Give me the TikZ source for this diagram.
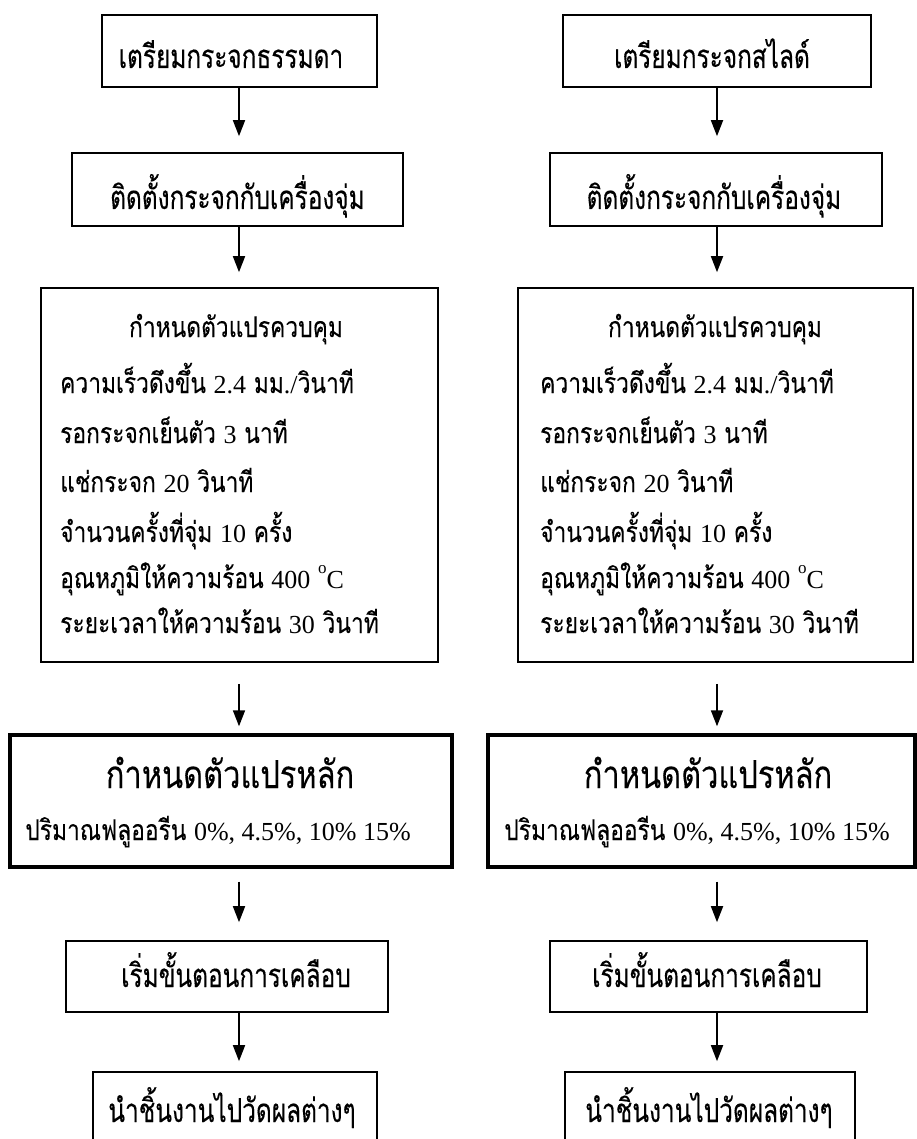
\documentclass[tikz,border=0pt]{standalone}
\usepackage{fontspec}
\newfontfamily\thai[Script=Thai,FakeStretch=0.74,FakeBold=0.25]{Loma}
\newfontfamily\thaib[Script=Thai,FakeStretch=0.8,FakeBold=0.12]{Loma}
\newfontfamily\lat{Liberation Serif}
\usetikzlibrary{arrows.meta,calc}
\newcommand{\fA}{\thai\fontsize{33}{33}\selectfont}
\newcommand{\fB}{\thaib\fontsize{28.5}{28.5}\selectfont}
\newcommand{\fC}{\thaib\fontsize{38.5}{38.5}\selectfont}
\newcommand{\nm}[1]{{\lat\fontsize{26}{26}\selectfont #1}}
\newcommand{\degC}{\raisebox{0.5em}{\lat\fontsize{17}{17}\selectfont o}{\lat\fontsize{26}{26}\selectfont C}}
\begin{document}
\begin{tikzpicture}[x=1pt,y=-1pt,
  box/.style={draw, line width=1.6pt, inner sep=0pt},
  thickbox/.style={draw, line width=3.4pt, inner sep=0pt},
  arr/.style={line width=1.7pt, -{Triangle[length=16pt,width=12pt]}},
  txt/.style={inner sep=0pt, anchor=base},
  ltxt/.style={inner sep=0pt, anchor=base west}]
\useasboundingbox (0,0) rectangle (917,1139);
\clip (0,0) rectangle (917,1139);
\coordinate (axL) at (239,0);
\coordinate (axR) at (717,0);
% left column
\node[box, minimum width=275, minimum height=72] (b1L) at (239.5,51) {};
\node[box, minimum width=331, minimum height=73] (b2L) at (237.5,189.5) {};
\node[box, minimum width=397, minimum height=374] (b3L) at (239.5,475) {};
\node[thickbox, minimum width=442, minimum height=132] (b4L) at (231,801) {};
\node[box, minimum width=322, minimum height=71] (b5L) at (227,976.5) {};
\node[box, minimum width=284, minimum height=98] (b6L) at (235,1121) {};
% right column
\node[box, minimum width=308, minimum height=72] (b1R) at (717,51) {};
\node[box, minimum width=332, minimum height=73] (b2R) at (716,189.5) {};
\node[box, minimum width=395, minimum height=374] (b3R) at (715.5,475) {};
\node[thickbox, minimum width=427, minimum height=132] (b4R) at (701.5,801) {};
\node[box, minimum width=317, minimum height=71] (b5R) at (708.5,976.5) {};
\node[box, minimum width=290, minimum height=98] (b6R) at (710,1121) {};
% texts left
\node[txt, font=\fA] (t1L) at (231,68) {เตรียมกระจกธรรมดา};
\node[txt, font=\fA] (t2L) at (237.5,209) {ติดตั้งกระจกกับเครื่องจุ่ม};
\node[txt, font=\fB] (t3L) at (236,337) {กำหนดตัวแปรควบคุม};
\node[ltxt, font=\fB] (t3La) at (60,393) {ความเร็วดึงขึ้น \nm{2.4} มม\nm{./}วินาที};
\node[ltxt, font=\fB] (t3Lb) at (60,443) {รอกระจกเย็นตัว \nm{3} นาที};
\node[ltxt, font=\fB] (t3Lc) at (60,492) {แช่กระจก \nm{20} วินาที};
\node[ltxt, font=\fB] (t3Ld) at (60,542) {จำนวนครั้งที่จุ่ม \nm{10} ครั้ง};
\node[ltxt, font=\fB] (t3Le) at (60,588) {อุณหภูมิให้ความร้อน \nm{400} \degC};
\node[ltxt, font=\fB] (t3Lf) at (60,633) {ระยะเวลาให้ความร้อน \nm{30} วินาที};
\node[txt, font=\fC] (t4L) at (230,788) {กำหนดตัวแปรหลัก};
\node[txt, font=\fB] (t4La) at (218,840) {ปริมาณฟลูออรีน \nm{0\%, 4.5\%, 10\% 15\%}};
\node[txt, font=\fA] (t5L) at (236,987) {เริ่มขั้นตอนการเคลือบ};
\node[txt, font=\fA] (t6L) at (232,1122) {นำชิ้นงานไปวัดผลต่างๆ};
% texts right
\node[txt, font=\fA] (t1R) at (712,68) {เตรียมกระจกสไลด์};
\node[txt, font=\fA] (t2R) at (714,209) {ติดตั้งกระจกกับเครื่องจุ่ม};
\node[txt, font=\fB] (t3R) at (715,337) {กำหนดตัวแปรควบคุม};
\node[ltxt, font=\fB] (t3Ra) at (540,393) {ความเร็วดึงขึ้น \nm{2.4} มม\nm{./}วินาที};
\node[ltxt, font=\fB] (t3Rb) at (540,443) {รอกระจกเย็นตัว \nm{3} นาที};
\node[ltxt, font=\fB] (t3Rc) at (540,492) {แช่กระจก \nm{20} วินาที};
\node[ltxt, font=\fB] (t3Rd) at (540,542) {จำนวนครั้งที่จุ่ม \nm{10} ครั้ง};
\node[ltxt, font=\fB] (t3Re) at (540,588) {อุณหภูมิให้ความร้อน \nm{400} \degC};
\node[ltxt, font=\fB] (t3Rf) at (540,633) {ระยะเวลาให้ความร้อน \nm{30} วินาที};
\node[txt, font=\fC] (t4R) at (708,788) {กำหนดตัวแปรหลัก};
\node[txt, font=\fB] (t4Ra) at (697,840) {ปริมาณฟลูออรีน \nm{0\%, 4.5\%, 10\% 15\%}};
\node[txt, font=\fA] (t5R) at (707,987) {เริ่มขั้นตอนการเคลือบ};
\node[txt, font=\fA] (t6R) at (709,1122) {นำชิ้นงานไปวัดผลต่างๆ};
% arrows
\foreach \c/\s in {L/axL,R/axR}{
  \draw[arr] (\s |- b1\c.south) -- ($(\s |- b2\c.north)+(0,-16)$);
  \draw[arr] (\s |- b2\c.south) -- ($(\s |- b3\c.north)+(0,-15)$);
  \draw[arr] ($(\s |- b3\c.south)+(0,21)$) -- ($(\s |- b4\c.north)+(0,-7)$);
  \draw[arr] ($(\s |- b4\c.south)+(0,13)$) -- ($(\s |- b5\c.north)+(0,-18)$);
  \draw[arr] (\s |- b5\c.south) -- ($(\s |- b6\c.north)+(0,-10)$);
}
\end{tikzpicture}
\end{document}
